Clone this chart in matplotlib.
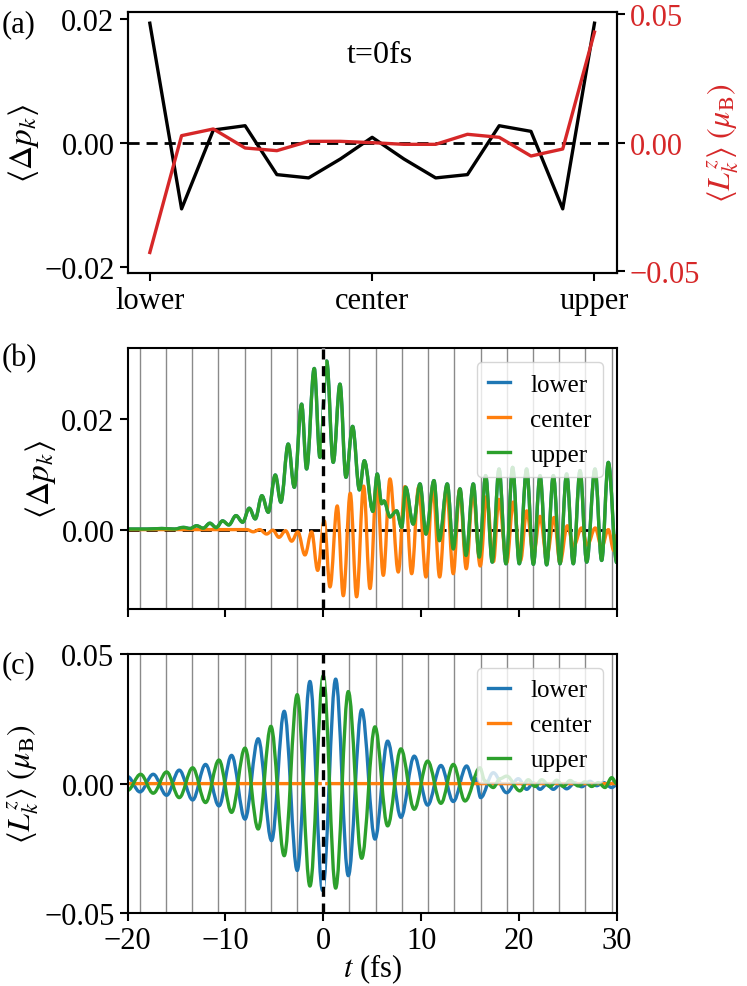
import numpy as np
import matplotlib
matplotlib.use("Agg")
import matplotlib.pyplot as plt
from matplotlib.path import Path
from matplotlib.patches import PathPatch
from matplotlib.lines import Line2D

# ---------------- data ----------------
# panel (a): t = 0 fs snapshot along the k-path
k_index = list(range(15))
k_tick_pos = [0, 7, 14]
k_tick_labels = ["lower", "center", "upper"]
dp_t0 = [0.01925, -0.01067, 0.00204, 0.00273, -0.00515, -0.00568, -0.00263, 0.00086,
         -0.00263, -0.00568, -0.00515, 0.00273, 0.00182, -0.01067, 0.01925]
lz_t0 = [-0.0428, 0.00273, 0.00534, -0.00208, -0.00312, 0.00052, 0.00052, 0.0,
         -0.00065, -0.00065, 0.00326, 0.00208, -0.00521, -0.00247, 0.0431]

# panel (b): <Delta p_k>(t), read at turning points
t_dp_upper = [-20.0, -18.0, -16.5, -15.2, -14.3, -13.6, -12.95, -12.27, -11.59, -10.94,
              -10.29, -9.65, -8.92, -8.24, -7.56, -6.95, -6.27, -5.62, -4.90, -4.33,
              -3.58, -2.96, -2.21, -1.70, -0.92, -0.34, 0.35, 1.02, 1.71, 2.32,
              3.00, 3.70, 4.20, 5.08, 5.52, 5.97, 6.21, 6.82, 7.50, 8.02,
              8.42, 9.20, 9.89, 10.50, 11.32, 11.86, 12.68, 13.29, 13.98, 14.59,
              15.34, 15.95, 16.60, 17.28, 17.97, 18.68, 19.36, 20.04, 20.79, 21.48,
              22.16, 22.84, 23.52, 24.20, 24.88, 25.56, 26.25, 26.93, 27.78, 28.46,
              29.14, 30.0]
dp_upper = [0.0001, 0.0001, 0.0002, 0.0001, 0.0004, 0.0002, 0.0007, 0.00025, 0.00116, 0.00036,
            0.00158, 0.00085, 0.00254, 0.00134, 0.00388, 0.00194, 0.00616, 0.00315, 0.00991, 0.00496,
            0.01553, 0.00768, 0.02277, 0.0110, 0.02924, 0.01311, 0.0306, 0.0122, 0.0264, 0.0095,
            0.01873, 0.0072, 0.0125, 0.0033, 0.0101, 0.0047, 0.0052, 0.0023, 0.0034, 0.0004,
            0.0077, 0.0010, 0.0083, -0.0008, 0.0089, -0.0020, 0.0083, -0.0035, 0.0074, -0.0047,
            0.0083, -0.0050, 0.0098, -0.0059, 0.0110, -0.0062, 0.0113, -0.0062, 0.0110, -0.0063,
            0.0098, -0.0064, 0.0098, -0.0062, 0.0101, -0.0062, 0.0107, -0.0059, 0.0110, -0.0056,
            0.0122, -0.0060]
# lower and upper valleys are symmetric, so the lower curve lies under the upper one
t_dp_lower = t_dp_upper
dp_lower = dp_upper

t_dp_center = [-20.0, -8.5, -7.8, -7.16, -6.5, -5.79, -5.15, -4.53, -3.85, -3.23,
               -2.6, -1.87, -1.19, -0.57, 0.1, 0.69, 1.43, 2.05, 2.76, 3.41,
               4.13, 4.78, 5.47, 6.14, 6.82, 7.67, 8.35, 9.04, 9.75, 10.5,
               11.2, 11.9, 12.6, 13.29, 13.95, 14.62, 15.3, 16.05, 16.7, 17.4,
               17.95, 18.75, 19.43, 20.17, 20.8, 21.5, 22.16, 22.84, 23.6, 24.2,
               24.95, 25.6, 26.4, 27.0, 27.8, 28.46, 29.14, 29.7, 30.0]
dp_center = [0.0, 0.0, 0.0, -0.0004, 0.0, -0.0008, -0.0001, -0.0014, -0.0002, -0.0021,
             -0.0004, -0.0046, -0.0004, -0.0074, 0.0016, -0.0104, 0.0043, -0.0120, 0.0066, -0.0122,
             0.0079, -0.0107, 0.0085, -0.0083, 0.0092, -0.0077, 0.0078, -0.0080, 0.0077, -0.0086,
             0.0078, -0.0086, 0.0076, -0.0080, 0.0073, -0.0071, 0.0068, -0.0066, 0.0060, -0.0058,
             0.0055, -0.0060, 0.0050, -0.0056, 0.0034, -0.0045, 0.0024, -0.0050, 0.0022, -0.0060,
             0.0007, -0.0030, 0.0003, -0.0028, 0.0003, -0.0032, 0.0, -0.0038, -0.0010]

# panel (c): <L_k^z>(t) in mu_B, read at turning points
t_lz_lower = [-20.0, -18.74, -17.38, -16.01, -14.72, -13.35, -12.03, -10.66, -9.37, -8.0,
              -6.65, -5.28, -3.99, -2.66, -1.36, -0.07, 1.27, 2.56, 3.93, 5.29,
              6.58, 7.94, 9.3, 10.67, 12.03, 13.29, 14.66, 15.34, 15.6, 16.09,
              17.38, 18.75, 19.94, 20.8, 21.48, 22.16, 22.84, 23.52, 24.2, 24.88,
              25.74, 26.42, 27.27, 27.95, 28.63, 29.49, 30.0]
lz_lower = [0.0027, -0.0032, 0.0036, -0.0045, 0.0052, -0.0063, 0.0074, -0.0086, 0.0109, -0.0137,
            0.0173, -0.0220, 0.0279, -0.0335, 0.0394, -0.0412, 0.0403, -0.0355, 0.0285, -0.0214,
            0.0164, -0.0130, 0.0106, -0.0083, 0.0070, -0.0069, 0.0068, 0.0010, 0.0019, -0.0054,
            0.0042, -0.0035, 0.0019, -0.0022, 0.0003, -0.0022, -0.0003, -0.0022, -0.0003, -0.0020,
            0.0003, -0.0012, 0.0009, -0.0008, 0.0004, -0.0015, -0.0005]
t_lz_upper = [-20.0, -18.67, -17.38, -16.01, -14.72, -13.35, -12.03, -10.66, -9.37, -8.0,
              -6.65, -5.35, -3.99, -2.66, -1.36, 0.0, 1.27, 2.56, 3.93, 5.29,
              6.58, 7.94, 9.3, 10.67, 12.03, 13.3, 14.49, 16.02, 16.53, 17.38,
              18.07, 18.75, 20.1, 20.96, 21.65, 22.33, 23.18, 23.86, 24.54, 25.23,
              26.08, 26.76, 27.44, 28.12, 28.8, 29.49, 30.0]
lz_upper = [-0.0026, 0.0036, -0.0037, 0.0045, -0.0054, 0.0061, -0.0073, 0.0091, -0.0111, 0.0137,
            -0.0175, 0.0221, -0.0278, 0.0343, -0.0395, 0.0416, -0.0403, 0.0355, -0.0288, 0.0219,
            -0.0163, 0.0134, -0.0099, 0.0087, -0.0076, 0.0074, -0.0067, 0.0061, 0.0010, -0.0015,
            0.0019, 0.0029, -0.0028, 0.0015, -0.0011, 0.0015, -0.0011, 0.0013, -0.0011, 0.0012,
            -0.0009, 0.0007, -0.0011, 0.0004, -0.0015, 0.0023, 0.0]
t_lz_center = [-20.0, 30.0]
lz_center = [0.0, 0.0]

series_names = ["lower", "center", "upper"]
laser_period = 2.68   # fs, spacing of the thin vertical guide lines

# ---------------- style ----------------
plt.rcParams['font.family'] = ['Liberation Serif', 'DejaVu Serif']
plt.rcParams['mathtext.fontset'] = 'stix'
plt.rcParams['font.size'] = 22
plt.rcParams['axes.linewidth'] = 1.5
plt.rcParams['xtick.major.width'] = 1.5
plt.rcParams['ytick.major.width'] = 1.5
plt.rcParams['xtick.major.size'] = 6
plt.rcParams['ytick.major.size'] = 6
plt.rcParams['axes.unicode_minus'] = True

C_BLUE, C_ORANGE, C_GREEN, C_RED = '#1f77b4', '#ff7f0e', '#2ca02c', '#d62728'
LW = 2.4
YLAB_FS = 24


def smooth_curve(ax, t, y, color, z=2):
    """Draw the read turning points joined by smooth cubic segments
    (horizontal tangent at every turning point), in data coordinates."""
    verts = [(t[0], y[0])]
    codes = [Path.MOVETO]
    for i in range(len(t) - 1):
        dt = t[i + 1] - t[i]
        verts += [(t[i] + 0.36 * dt, y[i]), (t[i + 1] - 0.36 * dt, y[i + 1]), (t[i + 1], y[i + 1])]
        codes += [Path.CURVE4] * 3
    patch = PathPatch(Path(verts, codes), fill=False, edgecolor=color, lw=LW,
                      joinstyle='round', capstyle='butt', zorder=z, transform=ax.transData)
    ax.add_patch(patch)
    return patch


fig = plt.figure(figsize=(7.47, 9.87), dpi=100)
axa = fig.add_axes([0.1708, 0.7224, 0.6548, 0.2641])
axb = fig.add_axes([0.1708, 0.3820, 0.6548, 0.2641])
axc = fig.add_axes([0.1708, 0.0737, 0.6548, 0.2627])

# ---- (a)
axa.plot(k_index, dp_t0, color='black', lw=LW)
axa.axhline(0, color='black', ls='--', lw=2.0, dashes=(4, 2.5))
axa.set_ylim(-0.021, 0.021)
axa.set_yticks([-0.02, 0.0, 0.02])
axa.set_yticklabels(['\u22120.02', '0.00', '0.02'])
axa.set_xticks(k_tick_pos)
axa.set_xticklabels(k_tick_labels)
axa.set_xlim(-0.7, 14.7)
axa.set_ylabel(r'$\left\langle \Delta p_k \right\rangle$', fontsize=YLAB_FS, labelpad=2)
axa.text(0.516, 0.84, 't=0fs', transform=axa.transAxes, ha='center', va='center', fontsize=23)
axr = axa.twinx()
axr.plot(k_index, lz_t0, color=C_RED, lw=LW)
axr.set_ylim(-0.0508, 0.0508)
axr.set_yticks([-0.05, 0.0, 0.05])
axr.set_yticklabels(['\u22120.05', '0.00', '0.05'])
axr.tick_params(axis='y', labelcolor=C_RED, width=1.5, length=6)
axr.set_ylabel(r'$\langle L_k^z \rangle\ (\mu_{\mathrm{B}})$', color=C_RED, fontsize=23, labelpad=4)


# ---- (b) and (c)
def decorate(ax):
    for g in np.arange(-7, 12) * laser_period:
        if abs(g) > 1e-9:
            ax.axvline(g, color='#8a8a8a', lw=1.0, zorder=0.5)
    ax.axvline(0, color='black', ls='--', lw=2.4, dashes=(3, 2), gapcolor='white', zorder=5)
    ax.set_xlim(-20, 30)
    ax.set_xticks([-20, -10, 0, 10, 20, 30])


def add_legend(ax):
    handles = [Line2D([], [], color=c, lw=LW) for c in (C_BLUE, C_ORANGE, C_GREEN)]
    ax.legend(handles, series_names, loc='upper right', fontsize=18, handlelength=0.9,
              handletextpad=0.8, labelspacing=0.5, borderaxespad=0.55, borderpad=0.45,
              framealpha=0.8)


decorate(axb)
axb.axhline(0, color='black', ls='--', lw=2.0, dashes=(4, 2.5), zorder=1)
smooth_curve(axb, t_dp_lower, dp_lower, C_BLUE)
smooth_curve(axb, t_dp_center, dp_center, C_ORANGE)
smooth_curve(axb, t_dp_upper, dp_upper, C_GREEN)
axb.set_ylim(-0.0144, 0.0329)
axb.set_yticks([0.0, 0.02])
axb.set_yticklabels(['0.00', '0.02'])
axb.set_xticklabels([])
axb.set_ylabel(r'$\left\langle \Delta p_k \right\rangle$', fontsize=YLAB_FS, labelpad=2)
add_legend(axb)

decorate(axc)
smooth_curve(axc, t_lz_lower, lz_lower, C_BLUE)
smooth_curve(axc, t_lz_center, lz_center, C_ORANGE)
smooth_curve(axc, t_lz_upper, lz_upper, C_GREEN)
axc.set_ylim(-0.05, 0.05)
axc.set_yticks([-0.05, 0.0, 0.05])
axc.set_yticklabels(['\u22120.05', '0.00', '0.05'])
axc.set_xticklabels(['\u221220', '\u221210', '0', '10', '20', '30'])
axc.set_xlabel(r'$t$ (fs)', fontsize=22, labelpad=-3)
axc.set_ylabel(r'$\langle L_k^z \rangle\ (\mu_{\mathrm{B}})$', fontsize=23, labelpad=2)
add_legend(axc)

for lab, y in [('(a)', 0.975), ('(b)', 0.637), ('(c)', 0.326)]:
    fig.text(0.002, y, lab, fontsize=22, ha='left', va='center')

fig.savefig('out.png', dpi=100)
